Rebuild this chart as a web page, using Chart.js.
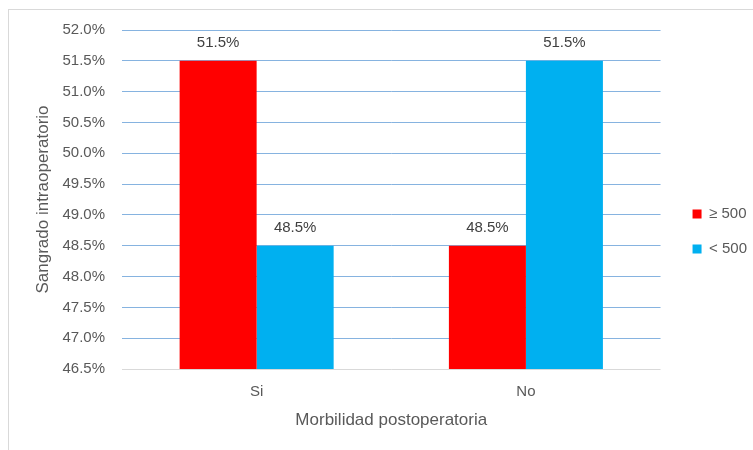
<!DOCTYPE html>
<html>
<head>
<meta charset="utf-8">
<script src="https://cdn.jsdelivr.net/npm/chart.js@4"></script>
<style>
  html, body { margin: 0; padding: 0; background: #fff; }
  #wrap { width: 753px; height: 450px; }
</style>
</head>
<body>
<div id="wrap"><canvas id="chart"></canvas></div>
<script>
// Chart values
const categories = ['Si', 'No'];
const seriesNames = ['≥ 500', '< 500'];
const highBleeding = [51.5, 48.5];
const lowBleeding = [48.5, 51.5];
const yMin = 46.5, yMax = 52.0, yStep = 0.5;

const textGray = '#595959';
const fontFamily = '"Liberation Sans", Arial, sans-serif';

// Value labels above each bar
const valueLabels = {
    id: 'valueLabels',
    afterDatasetsDraw(chart) {
        const ctx = chart.ctx;
        ctx.save();
        ctx.font = '15px ' + fontFamily;
        ctx.fillStyle = '#404040';
        ctx.textAlign = 'center';
        ctx.textBaseline = 'middle';
        chart.data.datasets.forEach((ds, i) => {
            chart.getDatasetMeta(i).data.forEach((bar, j) => {
                ctx.fillText(ds.data[j].toFixed(1) + '%', bar.x, bar.y - 18);
            });
        });
        ctx.restore();
    }
};

// Light frame around the chart and legend nudge
const frame = {
    id: 'frame',
    afterLayout(chart) {
        chart.legend.left += 12;
        chart.legend.right += 12;
    },
    beforeDraw(chart) {
        const ctx = chart.ctx;
        ctx.save();
        ctx.strokeStyle = '#d9d9d9';
        ctx.lineWidth = 1;
        ctx.strokeRect(8.5, 9.5, 800, 500);
        ctx.restore();
    }
};

const ctx = document.getElementById('chart').getContext('2d');
const chart = new Chart(ctx, {
    type: 'bar',
    data: {
        labels: categories,
        datasets: [{
            label: seriesNames[0],
            data: highBleeding,
            backgroundColor: '#FF0000',
            categoryPercentage: 0.572,
            barPercentage: 1.0
        }, {
            label: seriesNames[1],
            data: lowBleeding,
            backgroundColor: '#00B0F0',
            categoryPercentage: 0.572,
            barPercentage: 1.0
        }]
    },
    options: {
        responsive: true,
        maintainAspectRatio: false,
        animation: false,
        layout: {
            padding: { left: 10, top: 30, right: 8, bottom: 17 }
        },
        plugins: {
            legend: {
                position: 'right',
                labels: {
                    boxWidth: 9,
                    boxHeight: 9,
                    padding: 20,
                    color: textGray,
                    font: { family: fontFamily, size: 15 }
                }
            },
            tooltip: { enabled: false }
        },
        scales: {
            x: {
                grid: { display: false, drawTicks: false },
                border: { display: false },
                ticks: {
                    padding: 14,
                    color: textGray,
                    font: { family: fontFamily, size: 15 }
                },
                title: {
                    display: true,
                    text: 'Morbilidad postoperatoria',
                    color: textGray,
                    padding: { top: 0, bottom: 2 },
                    font: { family: fontFamily, size: 17 }
                },
                afterFit(scale) { scale.height = 64; }
            },
            y: {
                min: yMin,
                max: yMax,
                grid: {
                    drawTicks: false,
                    color: c => c.index === 0 ? '#d9d9d9' : '#86B3E0',
                    lineWidth: 1
                },
                border: { display: false },
                ticks: {
                    stepSize: yStep,
                    padding: 17,
                    color: textGray,
                    font: { family: fontFamily, size: 15 },
                    callback: v => v.toFixed(1) + '%'
                },
                title: {
                    display: true,
                    text: 'Sangrado intraoperatorio',
                    color: textGray,
                    padding: { top: 23, bottom: 0 },
                    font: { family: fontFamily, size: 17 }
                },
                afterFit(scale) { scale.width = 112; }
            }
        }
    },
    plugins: [valueLabels, frame]
});
</script>
</body>
</html>
